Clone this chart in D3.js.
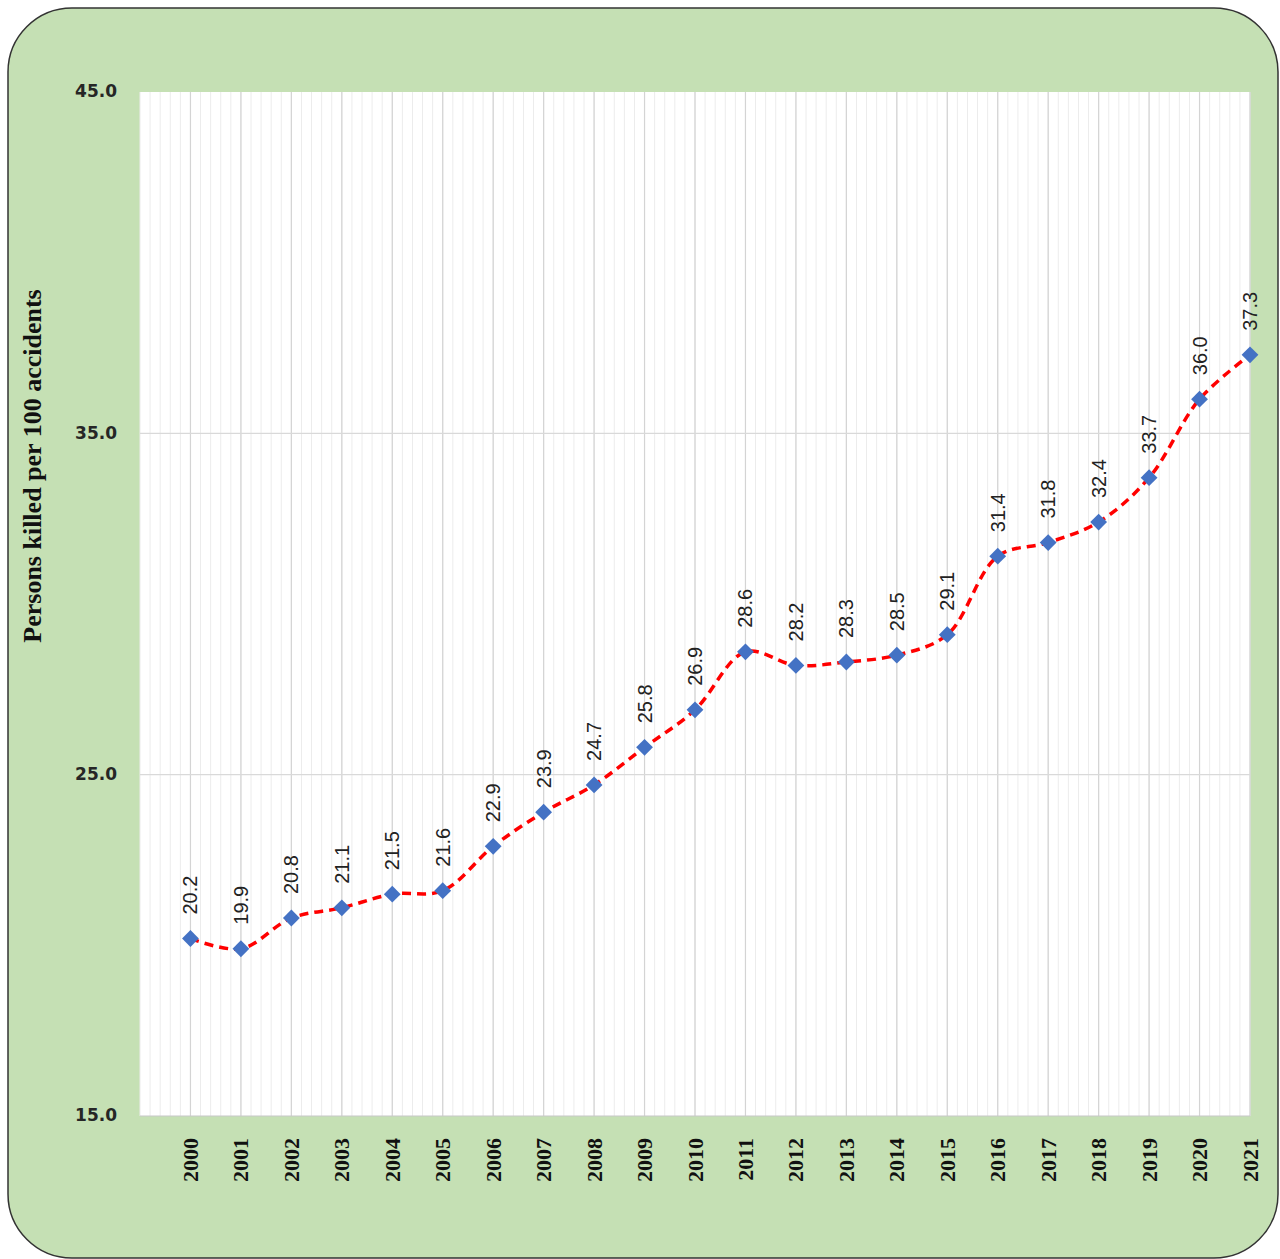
<!DOCTYPE html>
<html>
<head>
<meta charset="utf-8">
<script src="https://cdn.jsdelivr.net/npm/d3@7"></script>
<style>
  body { margin: 0; background: #fff; }
  svg { display: block; }
</style>
</head>
<body>
<div id="chart"></div>
<script>
// values
var years = [2000, 2001, 2002, 2003, 2004, 2005, 2006, 2007, 2008, 2009, 2010,
             2011, 2012, 2013, 2014, 2015, 2016, 2017, 2018, 2019, 2020, 2021]
var killedPer100 = [20.2, 19.9, 20.8, 21.1, 21.5, 21.6, 22.9, 23.9, 24.7, 25.8, 26.9,
                    28.6, 28.2, 28.3, 28.5, 29.1, 31.4, 31.8, 32.4, 33.7, 36.0, 37.3]
var yTicks = [15, 25, 35, 45]
var yTitle = 'Persons killed per 100 accidents'

var W = 1280, H = 1259

var svg = d3.select('#chart').append('svg')
    .attr('width', W)
    .attr('height', H)

// green rounded panel
svg.append('rect')
    .attr('x', 8).attr('y', 8)
    .attr('width', 1270).attr('height', 1250)
    .attr('rx', 64).attr('ry', 64)
    .attr('fill', '#c5e0b4')
    .attr('stroke', '#333')
    .attr('stroke-width', 1.5)

var x = d3.scaleLinear().domain([1999, 2021]).range([140, 1250])
var y = d3.scaleLinear().domain([15, 45]).range([1116, 92])

// plot area
svg.append('rect')
    .attr('x', x(1999)).attr('y', y(45))
    .attr('width', x(2021) - x(1999))
    .attr('height', y(15) - y(45))
    .attr('fill', '#fff')

// minor vertical grid (5 per year)
var minor = d3.range(0, 22 * 5 + 1).map(d => 1999 + d / 5)
svg.append('g').selectAll('line')
    .data(minor)
    .join('line')
    .attr('x1', d => x(d)).attr('x2', d => x(d))
    .attr('y1', y(45)).attr('y2', y(15))
    .attr('stroke', '#ececec')
    .attr('stroke-width', 1)

// major vertical grid
svg.append('g').selectAll('line')
    .data(years)
    .join('line')
    .attr('x1', d => x(d)).attr('x2', d => x(d))
    .attr('y1', y(45)).attr('y2', y(15))
    .attr('stroke', '#d4d4d4')
    .attr('stroke-width', 1.2)

// horizontal grid
svg.append('g').selectAll('line')
    .data([25, 35])
    .join('line')
    .attr('x1', x(1999)).attr('x2', x(2021))
    .attr('y1', d => y(d)).attr('y2', d => y(d))
    .attr('stroke', '#d9d9d9')
    .attr('stroke-width', 1.2)

// bottom axis line
svg.append('line')
    .attr('x1', x(1999)).attr('x2', x(2021))
    .attr('y1', y(15)).attr('y2', y(15))
    .attr('stroke', '#c8c8c8')
    .attr('stroke-width', 1.2)

// y tick labels
svg.append('g').selectAll('text')
    .data(yTicks)
    .join('text')
    .attr('x', 117)
    .attr('y', d => y(d))
    .attr('dy', '0.32em')
    .attr('text-anchor', 'end')
    .attr('font-family', 'DejaVu Sans, sans-serif')
    .attr('font-weight', 'bold')
    .attr('font-size', 17)
    .attr('fill', '#262626')
    .text(d => d3.format('.1f')(d))

// x tick labels (rotated)
svg.append('g').selectAll('text')
    .data(years)
    .join('text')
    .attr('transform', d => 'translate(' + (x(d) + 7.5) + ',1138) rotate(-90)')
    .attr('text-anchor', 'end')
    .attr('font-family', 'Liberation Serif, Times New Roman, serif')
    .attr('font-weight', 'bold')
    .attr('font-size', 22)
    .attr('fill', '#111')
    .text(d => d)

// y title
svg.append('text')
    .attr('transform', 'translate(41,466) rotate(-90)')
    .attr('text-anchor', 'middle')
    .attr('font-family', 'Liberation Serif, Times New Roman, serif')
    .attr('font-weight', 'bold')
    .attr('font-size', 26)
    .attr('fill', '#111')
    .text(yTitle)

var pts = years.map((yr, i) => [yr, killedPer100[i]])

// smoothed dashed line
var line = d3.line()
    .x(d => x(d[0]))
    .y(d => y(d[1]))
    .curve(d3.curveCatmullRom.alpha(0.5))

svg.append('path')
    .datum(pts)
    .attr('d', line)
    .attr('fill', 'none')
    .attr('stroke', '#ff0000')
    .attr('stroke-width', 3.5)
    .attr('stroke-dasharray', '9,6')

// diamond markers
svg.append('g').selectAll('path')
    .data(pts)
    .join('path')
    .attr('transform', d => 'translate(' + x(d[0]) + ',' + y(d[1]) + ')')
    .attr('d', d3.symbol(d3.symbolDiamond2, 180))
    .attr('fill', '#4472c4')

// data labels
svg.append('g').selectAll('text')
    .data(pts)
    .join('text')
    .attr('transform', d => 'translate(' + (x(d[0]) + 7) + ',' + (y(d[1]) - 24) + ') rotate(-90)')
    .attr('text-anchor', 'start')
    .attr('font-family', 'Liberation Sans, Arial, sans-serif')
    .attr('font-size', 20)
    .attr('fill', '#222')
    .text(d => d3.format('.1f')(d[1]))
</script>
</body>
</html>
